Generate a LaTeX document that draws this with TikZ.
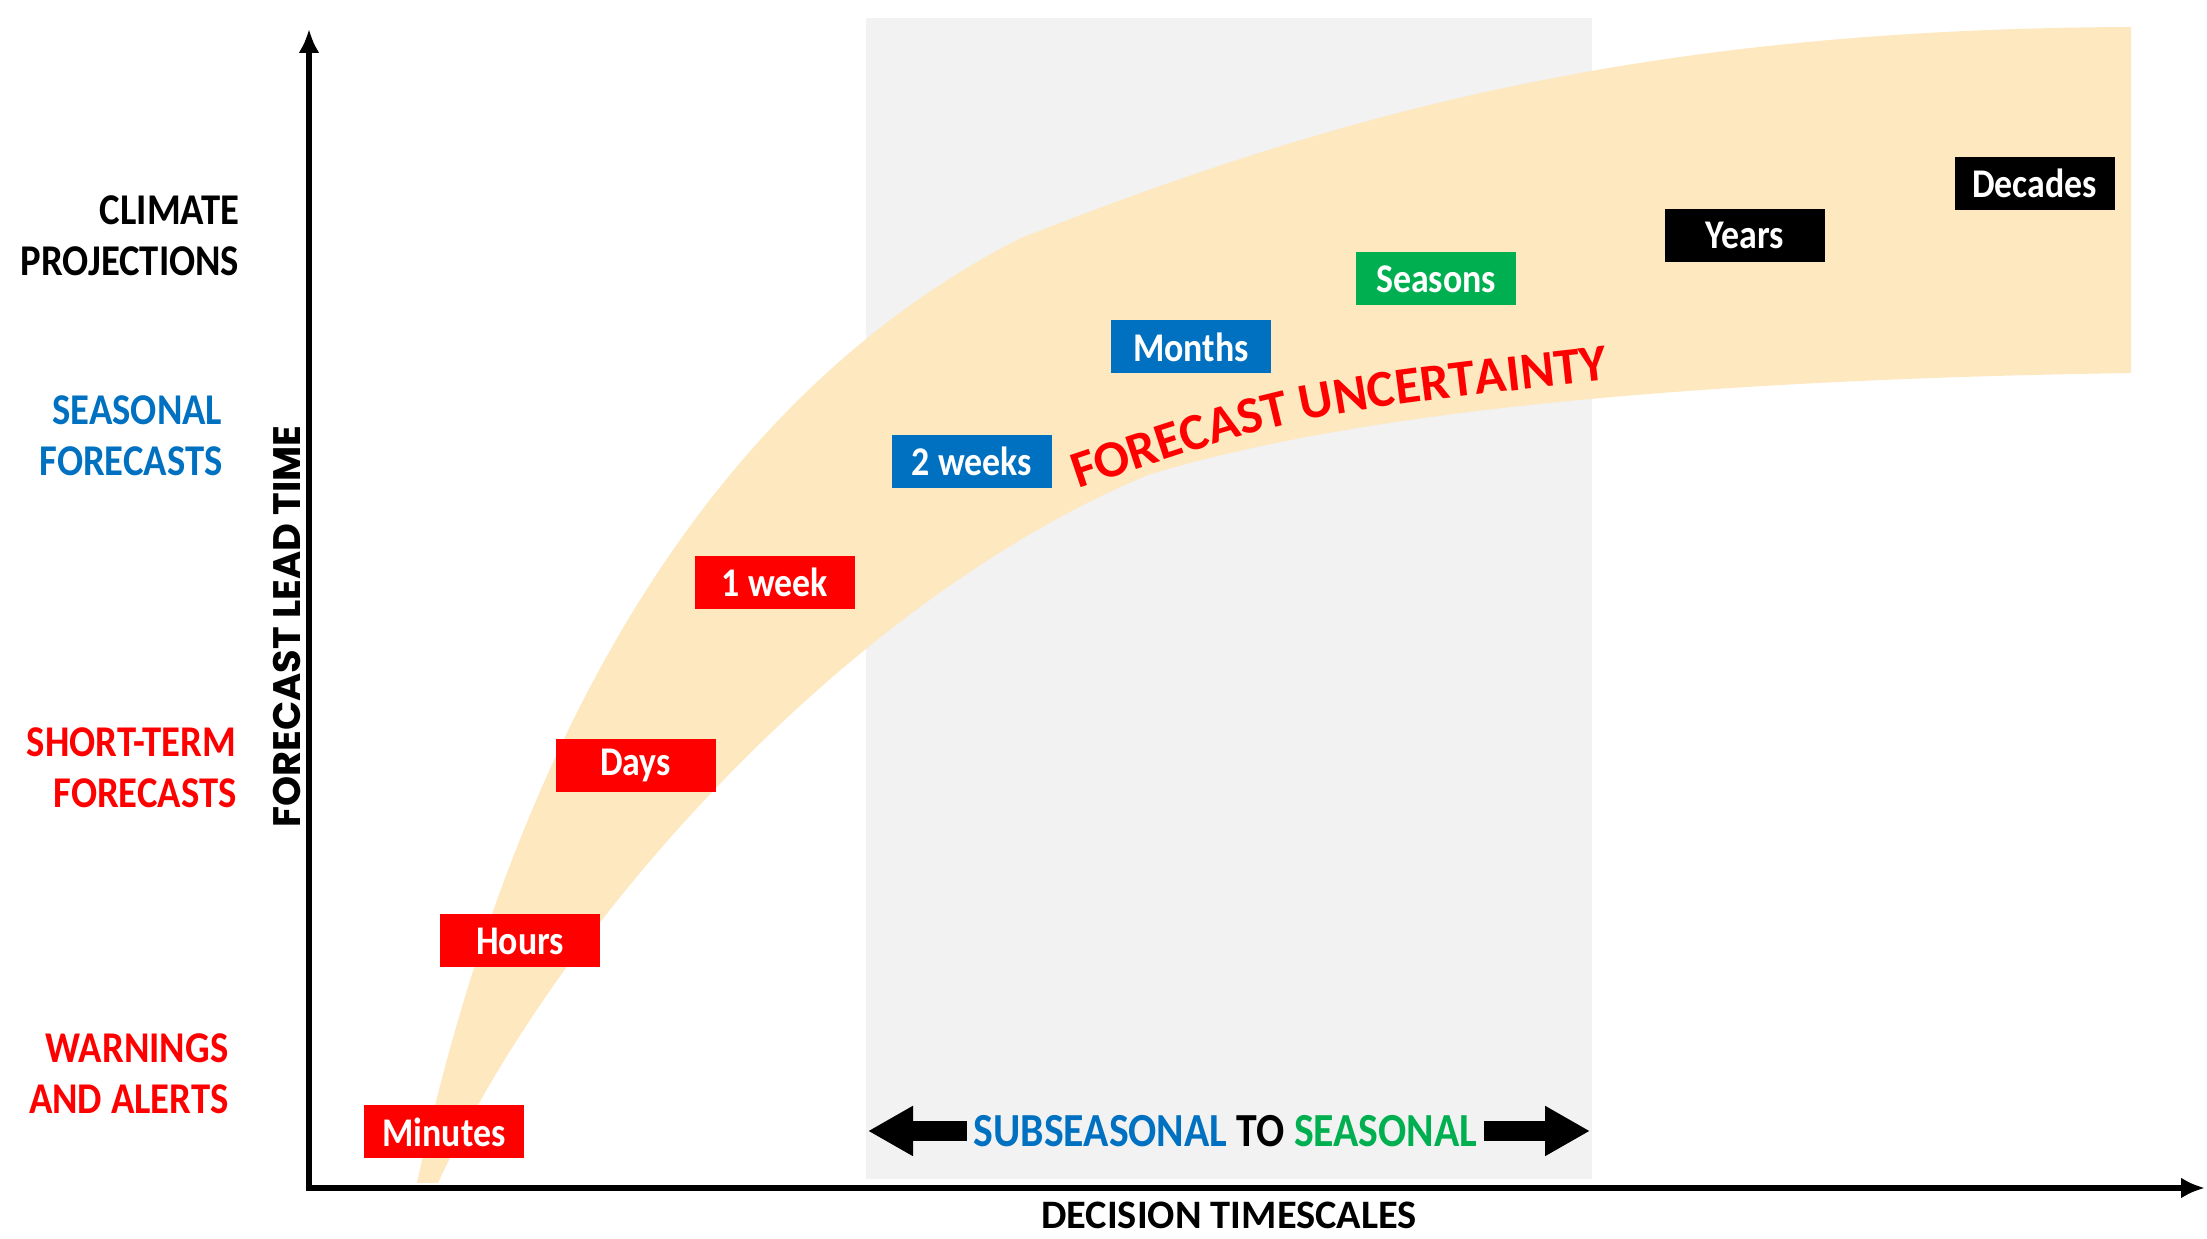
\documentclass[tikz,border=0pt]{standalone}
\usepackage{fontspec}
\setmainfont{Carlito}[FakeStretch=0.88]
\newfontfamily\arcfont{Carlito}
\newfontfamily\axisfont{Poppins}
\usetikzlibrary{
  arrows.meta,
  decorations.text
}
\definecolor{alertred}{RGB}{255,0,0}
\definecolor{seasonblue}{RGB}{0,112,192}
\definecolor{seasongreen}{RGB}{0,176,80}
\definecolor{bandtan}{RGB}{253,232,192}
\definecolor{panelgray}{RGB}{242,242,242}

\begin{document}
\begin{tikzpicture}[
  period/.style={
    draw=none,
    fill=#1,
    text=white,
    font=\fontsize{11.6}{13}\selectfont\bfseries,
    minimum width=1.6cm,
    minimum height=0.53cm,
    inner sep=0pt,
  },
  tier/.style={
    anchor=east,
    align=right,
    text=#1,
    font=\fontsize{12.5}{14.6}\selectfont\bfseries,
    inner sep=0pt,
  },
  axis/.style={
    line width=1.9pt,
    line join=miter,
    {Latex[length=2.4mm,width=2.1mm]}-{Latex[length=2.4mm,width=2.1mm]}
  },
  block/.style={
    line width=0.2cm,
    -{Triangle[length=4.5mm,width=4.7mm]}
  }
]
\useasboundingbox (0,0) rectangle (22.07,12.39);

% S2S panel
\fill[panelgray] (8.66,0.60) rectangle (15.92,12.21);

% Uncertainty band
\fill[bandtan] (4.17,0.56)
  .. controls (5.0,4.4) and (6.75,8.25) .. (10.21,10.01)
  .. controls (13.5,11.3) and (16.5,12.1) .. (21.31,12.12)
  -- (21.31,8.66)
  .. controls (17.5,8.6) and (13.8,8.35) .. (11.48,7.64)
  .. controls (8.5,6.4) and (5.6,3.2) .. (4.38,0.56)
  -- cycle;

\path[decorate, decoration={text along path, text color=alertred,
  text={|\arcfont\fontsize{14.8}{16}\selectfont\bfseries|FORECAST UNCERTAINTY}}]
  (10.78,7.50) .. controls (13.0,8.25) .. (16.25,8.61);

% Lead times
\foreach \nm/\col/\x/\y/\lbl in {
  minutes/alertred/4.44/1.07/Minutes,
  hours/alertred/5.20/2.98/Hours,
  days/alertred/6.355/4.735/Days,
  week/alertred/7.75/6.565/1 week,
  fortnight/seasonblue/9.72/7.775/2 weeks,
  months/seasonblue/11.91/8.92/Months,
  seasons/seasongreen/14.36/9.60/Seasons,
  years/black/17.45/10.035/Years,
  decades/black/20.345/10.555/Decades} {
  \node[period=\col] (\nm) at (\x,\y) {\lbl};
}

% Forecast types
\node[tier=black] (climate) at (2.40,10.03) {CLIMATE\\PROJECTIONS};
\node[tier=seasonblue] (seasonal) at (2.23,8.03) {SEASONAL\\FORECASTS};
\node[tier=alertred] (shortterm) at (2.37,4.71) {SHORT-TERM\\FORECASTS};
\node[tier=alertred] (warnings) at (2.29,1.65) {WARNINGS\\AND ALERTS};

% Axes
\coordinate (origin) at (3.09,0.51);
\coordinate (ytop) at (3.09,12.10);
\coordinate (xend) at (22.05,0.51);
\draw[axis] (ytop) -- (origin) -- (xend);

\node[rotate=90, font=\axisfont\fontsize{10.9}{12}\selectfont\bfseries] (leadtime) at (2.87,6.125) {FORECAST LEAD TIME};
\node[anchor=base, inner sep=0pt, font=\arcfont\fontsize{11.5}{13}\selectfont\bfseries] (timescales) at (12.29,0.10) {DECISION TIMESCALES};

% S2S range
\node[font=\fontsize{13.5}{15}\selectfont\bfseries, inner sep=0.06cm] (s2s) at (12.255,1.08)
  {\textcolor{seasonblue}{SUBSEASONAL} TO \textcolor{seasongreen}{SEASONAL}};
\coordinate (s2sleft) at (8.68,1.08);
\coordinate (s2sright) at (15.90,1.08);
\draw[block] (s2s.west) -- (s2sleft);
\draw[block] (s2s.east) -- (s2sright);

\end{tikzpicture}
\end{document}
